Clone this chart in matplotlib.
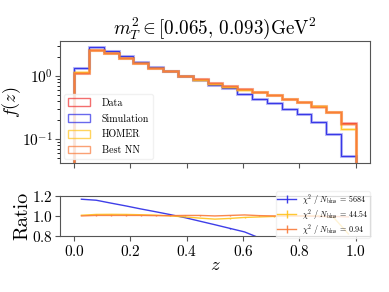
import numpy as np
import matplotlib
matplotlib.use("Agg")
import matplotlib.pyplot as plt
from matplotlib.patches import Rectangle

plt.rcParams["font.family"] = "serif"
plt.rcParams["font.serif"] = ["cmr10"]
plt.rcParams["mathtext.fontset"] = "cm"
plt.rcParams["axes.formatter.use_mathtext"] = True

# binning in z
edges = np.linspace(0.0, 1.0, 20)
centers = 0.5 * (edges[1:] + edges[:-1])

# histogram values
data_vals = [1.13, 2.57, 2.28, 1.90, 1.58, 1.35, 1.19, 1.01, 0.90, 0.78,
             0.695, 0.62, 0.56, 0.50, 0.44, 0.39, 0.33, 0.27, 0.18]
sim_vals = [1.32, 2.90, 2.48, 2.07, 1.68, 1.40, 1.19, 1.01, 0.865, 0.72,
            0.64, 0.52, 0.44, 0.37, 0.305, 0.25, 0.186, 0.121, 0.054]
homer_vals = [1.14, 2.60, 2.30, 1.92, 1.59, 1.36, 1.19, 1.00, 0.88, 0.755,
              0.68, 0.61, 0.555, 0.50, 0.44, 0.39, 0.33, 0.265, 0.144]
nn_vals = [1.13, 2.58, 2.29, 1.91, 1.59, 1.355, 1.19, 1.015, 0.905, 0.78,
           0.70, 0.625, 0.56, 0.50, 0.44, 0.39, 0.328, 0.268, 0.175]

# ratio panel values
ratio_sim = [1.167, 1.157, 1.128, 1.100, 1.070, 1.042, 1.013, 0.982, 0.947, 0.912,
             0.876, 0.840, 0.780, 0.72, 0.66, 0.60, 0.53, 0.44, 0.31]
ratio_homer = [1.007, 1.015, 1.016, 1.015, 1.012, 1.008, 1.000, 0.990, 0.978, 0.968,
               0.975, 0.985, 0.990, 0.995, 1.000, 1.000, 1.000, 0.985, 0.82]
ratio_nn = [1.000, 1.005, 1.005, 1.005, 1.005, 1.003, 1.003, 1.005, 1.005, 1.000,
            1.005, 1.010, 1.003, 1.000, 1.000, 1.000, 0.995, 0.995, 0.99]
chi2_labels = ["5684", "44.54", "0.94"]

c_data = "#ee3030"
c_sim = "#2a2ae6"
c_homer = "#ffc21a"
c_nn = "#f97a3a"

fig = plt.figure(figsize=(3.89, 2.92), dpi=100)
ax = fig.add_axes([0.154, 0.442, 0.797, 0.418])
axr = fig.add_axes([0.154, 0.192, 0.797, 0.137])

series = [(data_vals, c_data, "Data"), (sim_vals, c_sim, "Simulation"),
          (homer_vals, c_homer, "HOMER"), (nn_vals, c_nn, "Best NN")]
for vals, col, lab in series:
    ax.hist(centers, bins=edges, weights=vals, histtype="step",
            color=col, lw=2.2, alpha=0.3)
    ax.hist(centers, bins=edges, weights=vals, histtype="step",
            color=col, lw=0.9, alpha=0.9)
# legend handles: unfilled rectangles
handles = [Rectangle((0, 0), 1, 1, fill=False, edgecolor=col, alpha=0.7, lw=1.0)
           for _, col, _ in series]
ax.legend(handles, [s[2] for s in series], loc="lower left", fontsize=7.2,
          frameon=True, framealpha=0.8, edgecolor="#eeeeee",
          handlelength=2.2, handleheight=0.8, handletextpad=1.2,
          labelspacing=0.62, borderaxespad=0.4)

ax.set_yscale("log")
ax.set_ylim(0.042, 3.6)
ax.set_xlim(-0.05, 1.05)
ax.set_xticks([0.0, 0.2, 0.4, 0.6, 0.8, 1.0])
ax.tick_params(labelbottom=False)
ax.set_ylabel("$f(z)$", fontsize=13)
ax.yaxis.set_label_coords(-0.119, 0.5)
ax.set_title(r"$m_T^2 \in [0.065,\, 0.093)\mathrm{GeV}^2$", fontsize=13.8, pad=3)
ax.tick_params(axis="both", labelsize=11, color="#555555")
ax.tick_params(axis="y", pad=1.8)

for r, col, chi in [(ratio_sim, c_sim, chi2_labels[0]),
                    (ratio_homer, c_homer, chi2_labels[1]),
                    (ratio_nn, c_nn, chi2_labels[2])]:
    axr.errorbar(centers, r, yerr=0.002, color=col, lw=1.0, alpha=0.9,
                 label=r"$\chi^2\ /\ N_{\rm bins}$ = " + chi)
axr.set_ylim(0.8, 1.2)
axr.set_xlim(-0.05, 1.05)
axr.set_yticks([0.8, 1.0, 1.2])
axr.set_xticks([0.0, 0.2, 0.4, 0.6, 0.8, 1.0])
axr.set_ylabel("Ratio", fontsize=14.5)
axr.yaxis.set_label_coords(-0.092, 0.5)
axr.set_xlabel("$z$", fontsize=13.5, labelpad=-2)
axr.tick_params(axis="both", labelsize=11, color="#555555")
axr.tick_params(axis="y", pad=1.8)
axr.tick_params(axis="x", pad=2)
axr.legend(loc="upper right", fontsize=5.8, framealpha=0.8, edgecolor="#eeeeee",
           labelspacing=0.0, handlelength=2.3, borderpad=0.15, borderaxespad=0,
           bbox_to_anchor=(0.951, 0.346), bbox_transform=fig.transFigure)

for a in (ax, axr):
    for s in a.spines.values():
        s.set_color("#555555")

fig.savefig("out.png", dpi=100)
